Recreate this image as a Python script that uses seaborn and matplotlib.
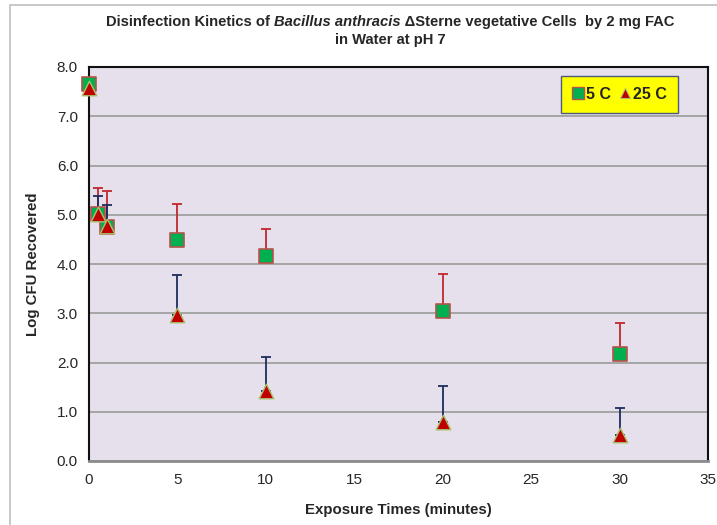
import numpy as np
import pandas as pd
import matplotlib
matplotlib.use("Agg")
import matplotlib.pyplot as plt
from matplotlib.patches import Rectangle
from matplotlib.lines import Line2D
import seaborn as sns

# Exposure times (minutes)
times = [0, 0.5, 1, 5, 10, 20, 30]

# Log CFU recovered at each temperature
log_cfu_5c = [7.66, 5.02, 4.76, 4.48, 4.16, 3.05, 2.17]
log_cfu_25c = [7.58, 5.02, 4.77, 2.96, 1.42, 0.80, 0.53]

# Upper error (one-sided)
err_5c = [0.0, 0.52, 0.73, 0.73, 0.56, 0.74, 0.63]
err_25c = [0.0, 0.37, 0.42, 0.81, 0.69, 0.72, 0.54]

series_names = ["5 C", "25 C"]
x_ticks = [0, 5, 10, 15, 20, 25, 30, 35]
y_ticks = [0, 1, 2, 3, 4, 5, 6, 7, 8]

df = pd.DataFrame({
    "time": times * 2,
    "logcfu": log_cfu_5c + log_cfu_25c,
    "temp": [series_names[0]] * len(times) + [series_names[1]] * len(times),
})

sns.set_style("white")
plt.rcParams["font.family"] = ["Liberation Sans", "DejaVu Sans"]

fig = plt.figure(figsize=(7.17, 5.25), dpi=100)
ax = fig.add_axes([89 / 717, 1 - 461 / 525, (708 - 89) / 717, (461 - 67) / 525])
ax.set_facecolor("#E5E0EC")

# outer chart frame
fig.patches.append(Rectangle((10 / 717, -0.1), 1.2, 1 - 5 / 525 + 0.1,
                             transform=fig.transFigure, fill=False,
                             edgecolor="#BFBFBF", linewidth=1.2))

# error bars (upper only)
ax.errorbar(times, log_cfu_5c, yerr=[np.zeros(len(times)), err_5c], fmt="none",
            ecolor="#C0282D", elinewidth=1.3, capsize=3.5, capthick=1.3, zorder=2)
ax.errorbar(times, log_cfu_25c, yerr=[np.zeros(len(times)), err_25c], fmt="none",
            ecolor="#1F2D5C", elinewidth=1.3, capsize=3.5, capthick=1.3, zorder=2)

sq_kw = dict(marker="s", color="#00B050", edgecolor="#B5524A", linewidth=1.2)
tri_kw = dict(marker="^", color="#C00000", edgecolor="#A9C26A", linewidth=1.0)
sns.scatterplot(data=df[df.temp == series_names[0]], x="time", y="logcfu",
                s=105, ax=ax, zorder=3, clip_on=False, legend=False, **sq_kw)
sns.scatterplot(data=df[df.temp == series_names[1]], x="time", y="logcfu",
                s=110, ax=ax, zorder=4, clip_on=False, legend=False, **tri_kw)

ax.set_xlim(0, 35)
ax.set_ylim(0, 8)
ax.set_xticks(x_ticks)
ax.set_yticks(y_ticks)
ax.set_xticklabels([str(t) for t in x_ticks], fontsize=11)
ax.set_yticklabels([f"{v:.1f}" for v in y_ticks], fontsize=11)
ax.tick_params(axis="x", length=4, width=1, color="#999999", pad=5)
ax.tick_params(axis="y", length=4, width=1, color="#999999", pad=4)
ax.yaxis.grid(True, color="#A0A0A0", linewidth=1.3)
ax.set_axisbelow(True)

for side in ("left", "top", "right"):
    ax.spines[side].set_color("#111111")
    ax.spines[side].set_linewidth(1.5)
ax.spines["bottom"].set_color("#8C8C8C")
ax.spines["bottom"].set_linewidth(2.0)

ax.set_xlabel("Exposure Times (minutes)", fontsize=10.8, fontweight="bold", labelpad=11)
ax.set_ylabel("Log CFU Recovered", fontsize=10.8, fontweight="bold", labelpad=12)

handles = [
    Line2D([], [], linestyle="none", marker="s", markersize=8,
           markerfacecolor="#00B050", markeredgecolor="#B5524A", markeredgewidth=1.0),
    Line2D([], [], linestyle="none", marker="^", markersize=7.5,
           markerfacecolor="#C00000", markeredgecolor="#A9C26A", markeredgewidth=0.8),
]
leg = fig.legend(handles, series_names, loc="center",
                 bbox_to_anchor=(619.5 / 717, 1 - 94.5 / 525), ncol=2,
                 frameon=True, fancybox=False, handletextpad=0.1,
                 columnspacing=0.5, borderpad=0.7, handlelength=0.8,
                 prop={"weight": "bold", "size": 11.5})
leg.get_frame().set_facecolor("#FFFF00")
leg.get_frame().set_edgecolor("#4F5B7A")
leg.get_frame().set_linewidth(1.0)
leg.get_frame().set_alpha(1)

# title with italic species name, assembled piece by piece
title_font = {"fontsize": 10.6, "fontweight": "bold"}
pieces = [("Disinfection Kinetics of ", "normal"),
          ("Bacillus anthracis", "italic"),
          (" \u0394Sterne vegetative Cells  by 2 mg FAC", "normal")]
fig.canvas.draw()
renderer = fig.canvas.get_renderer()
texts = []
for s, style in pieces:
    t = fig.text(0, 1 - 22 / 525, s, style=style, va="center", ha="left", **title_font)
    texts.append(t)
widths = [t.get_window_extent(renderer).width for t in texts]
total = sum(widths)
x0 = 390 - total / 2
for t, w in zip(texts, widths):
    t.set_x(x0 / 717)
    x0 += w
fig.text(390 / 717, 1 - 40 / 525, "in Water at pH 7", ha="center", va="center", **title_font)

fig.savefig("out.png", dpi=100)
